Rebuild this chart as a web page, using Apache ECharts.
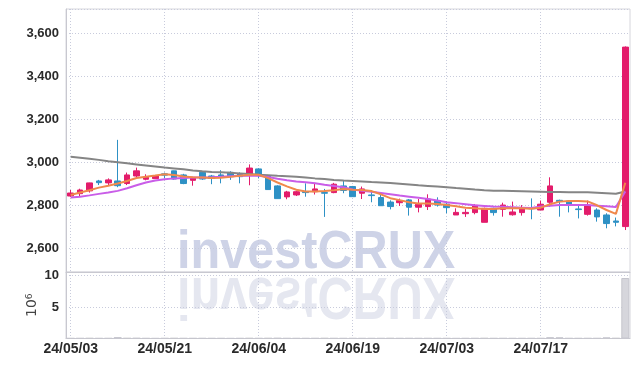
<!DOCTYPE html>
<html>
<head>
<meta charset="utf-8">
<script src="https://cdn.jsdelivr.net/npm/echarts@6/dist/echarts.min.js"></script>
<style>
html,body{margin:0;padding:0;background:#fff}
#main{width:639px;height:366px}
</style>
</head>
<body>
<div id="main"></div>
<script>
// trading days 24/05/03 .. 24/07/30
const dates = [
  '24/05/03','24/05/07','24/05/08','24/05/09','24/05/10','24/05/13','24/05/14','24/05/16','24/05/17','24/05/20',
  '24/05/21','24/05/22','24/05/23','24/05/24','24/05/27','24/05/28','24/05/29','24/05/30','24/05/31','24/06/03',
  '24/06/04','24/06/05','24/06/07','24/06/10','24/06/11','24/06/12','24/06/13','24/06/14','24/06/17','24/06/18',
  '24/06/19','24/06/20','24/06/21','24/06/24','24/06/25','24/06/26','24/06/27','24/06/28','24/07/01','24/07/02',
  '24/07/03','24/07/04','24/07/05','24/07/08','24/07/09','24/07/10','24/07/11','24/07/12','24/07/15','24/07/16',
  '24/07/17','24/07/18','24/07/19','24/07/22','24/07/23','24/07/24','24/07/25','24/07/26','24/07/29','24/07/30'
];
const openP = [
  2843,2854,2867,2913,2904,2913,2901,2936,2921,2924,
  2946,2960,2941,2916,2953,2936,2941,2953,2946,2941,
  2969,2938,2890,2839,2848,2863,2863,2859,2859,2890,
  2887,2856,2848,2836,2815,2812,2825,2791,2794,2822,
  2805,2755,2761,2766,2721,2786,2781,2756,2766,2789,
  2778,2814,2823,2820,2783,2758,2778,2755,2727,2701
];
const closeP = [
  2857,2871,2904,2905,2918,2891,2941,2960,2930,2936,
  2940,2922,2901,2929,2922,2925,2933,2933,2933,2973,
  2938,2873,2831,2862,2863,2859,2876,2856,2898,2869,
  2840,2876,2845,2798,2794,2822,2791,2805,2829,2801,
  2789,2767,2767,2800,2786,2766,2801,2769,2786,2784,
  2805,2890,2817,2800,2780,2801,2746,2715,2721,3535
];
const lowP = [
  2839,2839,2859,2894,2894,2884,2894,2930,2916,2924,
  2925,2919,2898,2891,2918,2898,2902,2918,2902,2893,
  2925,2873,2831,2828,2843,2840,2850,2746,2856,2856,
  2840,2829,2814,2798,2781,2797,2752,2767,2778,2794,
  2763,2755,2746,2758,2721,2752,2747,2752,2752,2735,
  2778,2794,2747,2767,2739,2752,2724,2693,2702,2685
];
const highP = [
  2871,2877,2905,2918,2925,3104,2952,2975,2944,2941,
  2952,2961,2946,2930,2956,2941,2963,2958,2953,2990,
  2972,2941,2893,2867,2868,2902,2904,2876,2904,2918,
  2890,2887,2870,2848,2823,2831,2829,2829,2851,2837,
  2817,2786,2783,2806,2789,2789,2812,2817,2801,2832,
  2822,2930,2826,2823,2805,2822,2786,2763,2743,3538
];
const ma5 = [
  2848,2859,2870,2882,2891,2901,2913,2927,2933,2938,
  2944,2941,2934,2930,2929,2927,2928,2932,2937,2942,
  2942,2926,2906,2888,2872,2864,2864,2866,2870,2876,
  2872,2871,2866,2851,2833,2824,2814,2808,2808,2806,
  2801,2795,2789,2786,2783,2783,2786,2786,2786,2784,
  2789,2805,2817,2820,2820,2818,2800,2778,2760,2905
];
const ma10 = [
  2836,2840,2846,2853,2859,2867,2879,2893,2906,2915,
  2921,2925,2927,2929,2929,2930,2932,2935,2937,2938,
  2937,2931,2923,2916,2910,2907,2902,2895,2890,2884,
  2873,2868,2863,2857,2851,2845,2840,2835,2829,2822,
  2814,2810,2805,2800,2797,2794,2793,2791,2789,2787,
  2794,2798,2801,2801,2801,2801,2798,2795,2792,2864
];
const ma120 = [
  3026,3021,3016,3011,3005,3000,2995,2990,2985,2980,
  2975,2971,2967,2962,2958,2955,2953,2951,2948,2945,
  2942,2940,2937,2935,2932,2929,2925,2922,2918,2915,
  2913,2911,2908,2906,2903,2900,2897,2893,2890,2887,
  2884,2880,2877,2873,2870,2868,2867,2866,2865,2864,
  2863,2862,2862,2861,2861,2860,2858,2856,2854,2864
];
// volume, 10^6 shares
const volume = [
  0.04,0.05,0.06,0.04,0.05,0.22,0.06,0.07,0.04,0.03,
  0.05,0.06,0.05,0.04,0.05,0.04,0.04,0.03,0.04,0.06,
  0.05,0.06,0.07,0.05,0.04,0.04,0.05,0.06,0.05,0.04,
  0.05,0.04,0.04,0.05,0.06,0.04,0.05,0.04,0.05,0.04,
  0.04,0.03,0.04,0.05,0.06,0.04,0.05,0.04,0.04,0.05,
  0.05,0.2,0.18,0.05,0.04,0.05,0.05,0.17,0.06,9.6
];

const candles = openP.map((o, i) => [o, closeP[i], lowP[i], highP[i]]);

const UP = '#e31c6b', DOWN = '#2e91c5';
const gridLine = {show: true, lineStyle: {color: '#c8cbdc', type: [1, 2], width: 1}};
const labelFont = {fontFamily: 'Liberation Sans', fontSize: 13, fontWeight: 'bold', color: '#2a2a2a'};

const chart = echarts.init(document.getElementById('main'));
chart.setOption({
  animation: false,
  grid: [
    {left: 66, right: 9, top: 9, height: 263, show: true, borderColor: '#d6d6dc', borderWidth: 1},
    {left: 66, right: 9, top: 272, height: 66.5, show: true, borderColor: '#d6d6dc', borderWidth: 1}
  ],
  graphic: [
    { // watermark
      type: 'text', x: 177, y: 272, scaleX: 0.9, z: -10,
      style: {text: 'investCRUX', x: 0, y: -19, verticalAlign: 'middle',
        font: 'bold 54px "Liberation Sans"', fill: '#ced3e7'}
    },
    { // reflection
      type: 'text', x: 177, y: 273, scaleX: 0.9, scaleY: -1.1, z: -10,
      style: {text: 'investCRUX', x: 0, y: -19, verticalAlign: 'middle',
        font: 'bold 54px "Liberation Sans"', fill: '#e5e7f0'}
    }
  ],
  xAxis: [
    {
      type: 'category', gridIndex: 0, data: dates, boundaryGap: true,
      axisLine: {lineStyle: {color: '#c8c8d0'}},
      axisTick: {show: false}, axisLabel: {show: false},
      splitLine: Object.assign({interval: 9, alignWithLabel: true}, gridLine)
    },
    {
      type: 'category', gridIndex: 1, data: dates, boundaryGap: true,
      axisLine: {lineStyle: {color: '#c8c8d0'}},
      axisTick: {show: false},
      axisLabel: Object.assign({interval: 9, margin: 4}, labelFont, {fontSize: 14}),
      splitLine: Object.assign({interval: 9, alignWithLabel: true}, gridLine)
    }
  ],
  yAxis: [
    {
      type: 'value', gridIndex: 0, min: 2490, max: 3712, scale: true,
      axisLine: {show: true, lineStyle: {color: '#c8c8d0'}},
      axisTick: {show: false},
      axisLabel: Object.assign({margin: 7,
        formatter: v => (v % 200 === 0 ? v.toLocaleString('en-US') : '')}, labelFont),
      splitLine: gridLine
    },
    {
      type: 'value', gridIndex: 1, min: 0, max: 10.55, interval: 5,
      axisLine: {show: true, lineStyle: {color: '#c8c8d0'}},
      axisTick: {show: false},
      axisLabel: Object.assign({margin: 7,
        formatter: v => (v === 5 || v === 10 ? String(v) : '')}, labelFont),
      splitLine: gridLine,
      name: '{a|10}{b|6}', nameLocation: 'middle', nameRotate: 90, nameGap: 26,
      nameMoveOverlap: false,
      nameTextStyle: {
        rich: {
          a: {fontFamily: 'DejaVu Sans', fontSize: 14, color: '#444'},
          b: {fontFamily: 'DejaVu Sans', fontSize: 9, color: '#444', verticalAlign: 'top', padding: [0, 0, 6, 0]}
        }
      }
    }
  ],
  series: [
    {
      type: 'candlestick', xAxisIndex: 0, yAxisIndex: 0, data: candles, barWidth: 6,
      itemStyle: {color: UP, color0: DOWN, borderColor: UP, borderColor0: DOWN, borderWidth: 1}
    },
    {type: 'line', xAxisIndex: 0, yAxisIndex: 0, data: ma120, symbol: 'none',
      lineStyle: {color: '#858585', width: 2}},
    {type: 'line', xAxisIndex: 0, yAxisIndex: 0, data: ma10, symbol: 'none',
      lineStyle: {color: '#c95de8', width: 2}},
    {type: 'line', xAxisIndex: 0, yAxisIndex: 0, data: ma5, symbol: 'none',
      lineStyle: {color: '#f0894c', width: 2}},
    {
      type: 'bar', xAxisIndex: 1, yAxisIndex: 1, data: volume, barWidth: '85%',
      itemStyle: {color: '#d6d6dc', borderColor: '#c6c6ce', borderWidth: 1}
    }
  ]
});
</script>
</body>
</html>
